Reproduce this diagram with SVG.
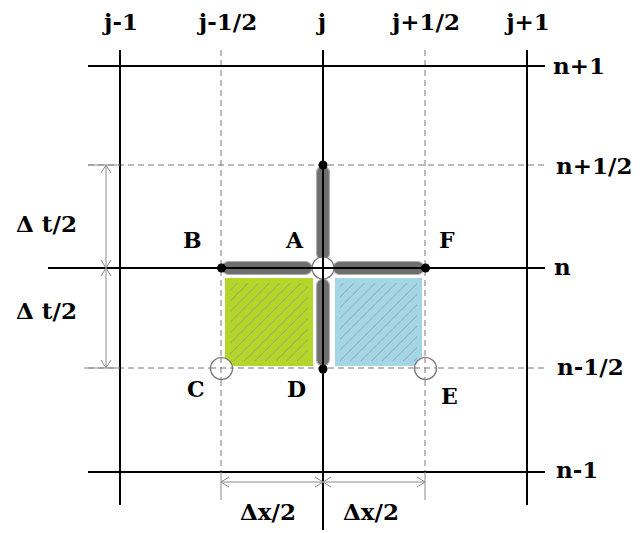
<svg xmlns="http://www.w3.org/2000/svg" width="642" height="533" viewBox="0 0 642 533">
<style>
.lbl{font-family:"DejaVu Serif","Liberation Serif",serif;font-weight:bold;font-size:23px;fill:#000}
.pt{font-family:"DejaVu Serif","Liberation Serif",serif;font-weight:bold;font-size:22px;fill:#000}
.main{stroke:#000;stroke-width:2;fill:none}
.dash{stroke:#7a7a7a;stroke-width:1;stroke-dasharray:6,4;fill:none}
.thin{stroke:#8a8a8a;stroke-width:1;fill:none}
.dim{stroke:#8a8a8a;stroke-width:1;fill:none;marker-start:url(#arr);marker-end:url(#arr)}
.bar{fill:#6e6e6e;stroke:#b0b0b0;stroke-width:1.2}
.dot{fill:#000}
.ring{fill:#fff;stroke:#777;stroke-width:1.2}
</style>
<defs>
<marker id="arr" viewBox="-10 -6 11 12" markerWidth="11" markerHeight="12" refX="0" refY="0" orient="auto-start-reverse" markerUnits="userSpaceOnUse">
<path d="M-8,-5 L0,0 L-8,5" fill="none" stroke="#8a8a8a" stroke-width="1"/>
</marker>
<pattern id="hatch" width="7.5" height="7.5" patternUnits="userSpaceOnUse" patternTransform="rotate(45)">
<line x1="0" y1="0" x2="0" y2="7.5" stroke="#8c8c8c" stroke-width="1"/>
</pattern>
</defs>

<g id="cells">
<rect x="225" y="278" width="88" height="88" fill="#b4d52a"/>
<rect x="230" y="283" width="78" height="78" fill="url(#hatch)"/>
<rect x="335" y="278" width="87" height="88" fill="#a4d6e6"/>
<rect x="340" y="283" width="77" height="78" fill="url(#hatch)"/>
</g>

<g id="grid">
<line class="dash" x1="221" y1="50" x2="221" y2="472"/>
<line class="dash" x1="425" y1="50" x2="425" y2="472"/>
<line class="dash" x1="88" y1="165" x2="545" y2="165"/>
<line class="dash" x1="88" y1="368" x2="545" y2="368"/>
</g>

<g id="bars">
<rect class="bar" x="222" y="261.5" width="90" height="13" rx="6.5"/>
<rect class="bar" x="333" y="261.5" width="91" height="13" rx="6.5"/>
<rect class="bar" x="316.5" y="166" width="13" height="94" rx="6.5"/>
<rect class="bar" x="316.5" y="279" width="13" height="87" rx="6.5"/>
</g>

<g id="node-A"><circle class="ring" cx="323" cy="268" r="11"/></g>
<g id="node-C"><circle class="ring" cx="221.5" cy="368.5" r="11"/></g>
<g id="node-E"><circle class="ring" cx="425.5" cy="368.5" r="11"/></g>

<g id="connectors">
<line class="dash" x1="210" y1="368" x2="233" y2="368"/>
<line class="dash" x1="221" y1="357" x2="221" y2="380"/>
<line class="dash" x1="414" y1="368" x2="437" y2="368"/>
<line class="dash" x1="425" y1="357" x2="425" y2="380"/>
<line class="main" x1="88" y1="66" x2="545" y2="66"/>
<line class="main" x1="48" y1="268" x2="545" y2="268"/>
<line class="main" x1="88" y1="472" x2="545" y2="472"/>
<line class="main" x1="120" y1="50" x2="120" y2="505"/>
<line class="main" x1="323" y1="50" x2="323" y2="530"/>
<line class="main" x1="527" y1="50" x2="527" y2="505"/>
<line class="thin" x1="221" y1="472" x2="221" y2="500"/>
<line class="thin" x1="425" y1="472" x2="425" y2="500"/>
<line class="thin" x1="88" y1="165" x2="120" y2="165"/>
<line class="thin" x1="84" y1="368" x2="120" y2="368"/>
<line class="dim" x1="106" y1="165" x2="106" y2="268"/>
<line class="dim" x1="106" y1="268" x2="106" y2="368"/>
<line class="dim" x1="221" y1="482" x2="323" y2="482"/>
<line class="dim" x1="323" y1="482" x2="425" y2="482"/>
</g>

<g id="node-top"><circle class="dot" cx="323" cy="165" r="4.5"/></g>
<g id="node-B"><circle class="dot" cx="221.5" cy="268" r="4.5"/></g>
<g id="node-F"><circle class="dot" cx="425.5" cy="268" r="4.5"/></g>
<g id="node-D"><circle class="dot" cx="323" cy="369" r="4.5"/></g>

<g id="labels">
<text class="lbl" x="121" y="30" text-anchor="middle">j-1</text>
<text class="lbl" x="228" y="30" text-anchor="middle">j-1/2</text>
<text class="lbl" x="322" y="30" text-anchor="middle">j</text>
<text class="lbl" x="426" y="30" text-anchor="middle">j+1/2</text>
<text class="lbl" x="528" y="30" text-anchor="middle">j+1</text>
<text class="lbl" x="553" y="74">n+1</text>
<text class="lbl" x="556" y="174">n+1/2</text>
<text class="lbl" x="554" y="275">n</text>
<text class="lbl" x="557" y="375">n-1/2</text>
<text class="lbl" x="556" y="478">n-1</text>
<text class="lbl" x="16" y="232">Δ t/2</text>
<text class="lbl" x="16" y="319">Δ t/2</text>
<text class="lbl" x="240" y="520">Δx/2</text>
<text class="lbl" x="343" y="520">Δx/2</text>
<text class="pt" x="183" y="248">B</text>
<text class="pt" x="286" y="248">A</text>
<text class="pt" x="439" y="248">F</text>
<text class="pt" x="187" y="397">C</text>
<text class="pt" x="287" y="397">D</text>
<text class="pt" x="441" y="404">E</text>
</g>
</svg>
